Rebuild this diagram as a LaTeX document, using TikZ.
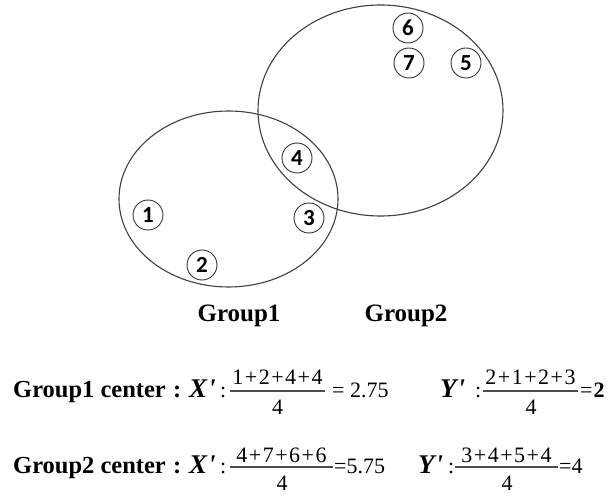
\documentclass[tikz,border=0pt]{standalone}
\usepackage{fontspec}
\setmainfont{Liberation Serif}
\newfontfamily\tnr{Liberation Serif}
\newfontfamily\numfont{Carlito}
\usetikzlibrary{shapes.geometric}
\newcommand\plusk{\kern1.5pt+\kern1.5pt}
\begin{document}
\begin{tikzpicture}[x=1pt,y=-1pt,
  group/.style={ellipse, draw=black!75, line width=1.1pt, inner sep=0pt},
  item/.style={circle, draw=black!80, line width=0.9pt, minimum size=30pt, inner sep=0pt,
    font=\numfont\bfseries\fontsize{23}{23}\selectfont},
  glabel/.style={anchor=base, inner sep=0pt, font=\tnr\bfseries\fontsize{25}{25}\selectfont},
  ctext/.style={anchor=base west, inner sep=0pt, font=\tnr\bfseries\fontsize{24.5}{25}\selectfont},
  var/.style={anchor=base west, inner sep=0pt, font=\tnr\bfseries\itshape\fontsize{27}{27}\selectfont},
  num/.style={anchor=base, inner sep=0pt, font=\tnr\fontsize{22}{22}\selectfont},
  val/.style={anchor=base west, inner sep=0pt, font=\tnr\fontsize{22}{22}\selectfont},
  bar/.style={draw=black!70, line width=1.4pt}
]
\useasboundingbox (0,0) rectangle (614,497);
\fill[white] (0,0) rectangle (614,497);

% groups
\node[group, minimum width=245pt, minimum height=211pt] (g2) at (380.5,110.5) {};
\node[group, minimum width=219pt, minimum height=176pt] (g1) at (228.5,199) {};

% items
\node[item] (i6) at (408,28) {6};
\node[item] (i7) at (409,63) {7};
\node[item] (i5) at (466,63) {5};
\node[item] (i4) at (297,158) {4};
\node[item] (i3) at (309,218) {3};
\node[item] (i1) at (148,215) {1};
\node[item] (i2) at (202,265) {2};

% group labels
\node[glabel] (l1) at (239,322) {Group1};
\node[glabel] (l2) at (406,322) {Group2};

% line 1
\node[ctext] (c1) at (13,398) {Group1 center};
\node[ctext] (k1) at (173,398) {:};
\node[var] (x1) at (189,398) {X\kern1pt'};
\node[val] (s1) at (220,398) {:};
\coordinate (b1l) at (230,391); \coordinate (b1r) at (325,391);
\draw[bar] (b1l) -- (b1r);
\node[num] (n1) at (277.5,385) {1\plusk2\plusk4\plusk4};
\node[num] (d1) at (277.5,414) {4};
\node[val] (e1) at (332,398) {= 2.75};
\node[var] (y1) at (440,398) {Y\kern1pt'};
\node[val] (s2) at (475,398) {:};
\coordinate (b2l) at (483,391); \coordinate (b2r) at (578,391);
\draw[bar] (b2l) -- (b2r);
\node[num] (n2) at (530.5,385) {2\plusk1\plusk2\plusk3};
\node[num] (d2) at (531,414) {4};
\node[val] (e2) at (580,398) {=\kern1pt\textbf{2}};

% line 2
\node[ctext] (c2) at (13,473) {Group2 center};
\node[ctext] (k2) at (173,473) {:};
\node[var] (x2) at (189,473) {X\kern1pt'};
\node[val] (s3) at (220,473) {:};
\coordinate (b3l) at (230,467); \coordinate (b3r) at (333,467);
\draw[bar] (b3l) -- (b3r);
\node[num] (n3) at (281.5,462) {4\plusk7\plusk6\plusk6};
\node[num] (d3) at (282,490) {4};
\node[val] (e3) at (334,473) {=5.75};
\node[var] (y2) at (418,473) {Y\kern1pt'};
\node[val] (s4) at (448,473) {:};
\coordinate (b4l) at (455,467); \coordinate (b4r) at (558,467);
\draw[bar] (b4l) -- (b4r);
\node[num] (n4) at (506.5,462) {3\plusk4\plusk5\plusk4};
\node[num] (d4) at (507,490) {4};
\node[val] (e4) at (559,473) {=4};
\end{tikzpicture}
\end{document}
